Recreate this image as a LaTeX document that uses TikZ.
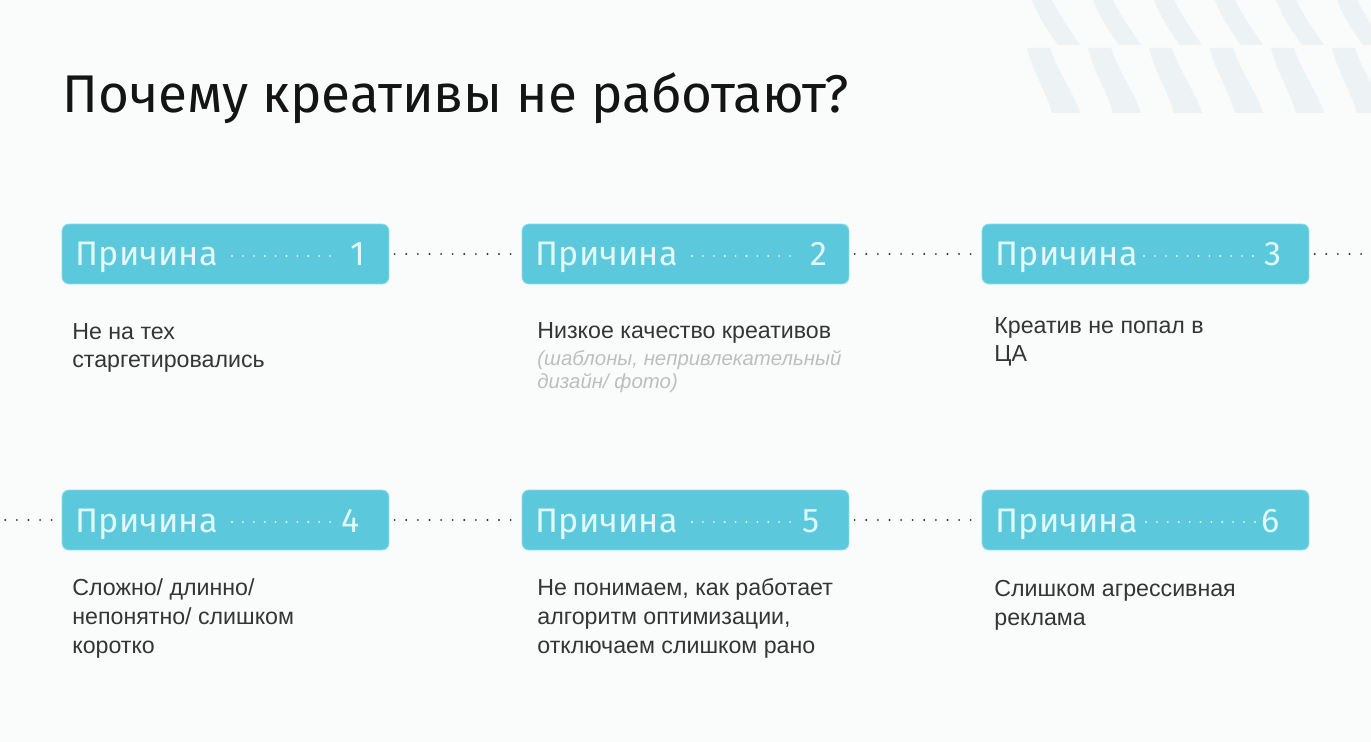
\documentclass[tikz,border=0pt]{standalone}
\usepackage{fontspec}
\setmainfont{Liberation Sans}
\newfontfamily\headfont{Fira Sans}
\usetikzlibrary{positioning,calc}
\definecolor{bgpage}{HTML}{FAFCFB}
\definecolor{tagcyan}{HTML}{5BC8DC}
\definecolor{tagedge}{HTML}{86DCEA}
\definecolor{tagtext}{HTML}{E2F9FB}
\definecolor{bodytext}{HTML}{353535}
\definecolor{notetext}{HTML}{BEBEBE}
\definecolor{stripe}{HTML}{EDF2F5}

\begin{document}
\begin{tikzpicture}[
  x=0.02cm, y=-0.02cm,
  tagbox/.style={rectangle, rounded corners=4pt, fill=tagcyan, draw=tagedge,
                 line width=0.5pt, minimum width=6.54cm, minimum height=1.2cm},
  tagword/.style={font=\headfont\fontsize{19.4}{22}\selectfont, text=tagtext,
                  inner sep=0pt},
  tagdots/.style={draw=tagtext, line width=1.2pt, line cap=round,
                  dash pattern=on 0pt off 6.2pt},
  dotline/.style={draw=black!80, line width=1.2pt, line cap=round,
                  dash pattern=on 0pt off 6.6pt, shorten <=3pt, shorten >=3pt},
  body/.style={font=\fontsize{13.2}{16.4}\selectfont, text=bodytext,
               align=left, inner sep=0pt},
  note/.style={font=\itshape\fontsize{11.6}{13.6}\selectfont, text=notetext,
               align=left, inner sep=0pt},
]
% page and frame
\fill[bgpage] (0,0) rectangle (1371,742);
\useasboundingbox (0,0) rectangle (1371,742);
% stripes top right
\begin{scope}
  \clip (0,0) rectangle (1371,742);
  \foreach \sx in {1032,1093,1154,1215,1276,1337} {
    \fill[stripe] (\sx,0) -- ++(20,0) .. controls +(10,20) and +(-8,-12) .. (\sx+48,45)
      -- (\sx+26,45) .. controls +(-10,-14) and +(8,20) .. (\sx,0) -- cycle;
    \fill[stripe] (\sx-5,48) -- ++(23,0) .. controls +(8,25) and +(-6,-20) .. (\sx+48,113)
      -- (\sx+20,113) .. controls +(-6,-22) and +(6,25) .. (\sx-5,48) -- cycle;
  }
\end{scope}
% title
\node[anchor=base west, inner sep=0pt, text=black!92,
      font=\headfont\fontsize{30.2}{34}\selectfont] (title) at (62,113)
  {Почему креативы не работают?};
% row 1
\node[tagbox] (b1) at (225.5,254) {};
\node[tagbox] (b2) at (685.5,254) {};
\node[tagbox] (b3) at (1145.5,254) {};
% row 2
\node[tagbox] (b4) at (225.5,520) {};
\node[tagbox] (b5) at (685.5,520) {};
\node[tagbox] (b6) at (1145.5,520) {};
% tag words and numbers
\node[tagword, anchor=base west] (w1) at ($(b1.west)+(14,12)$) {Причина};
\node[tagword, anchor=base east] (n1) at ($(b1.east)+(-24,12)$) {1};
\node[tagword, anchor=base west] (w2) at ($(b2.west)+(14,12)$) {Причина};
\node[tagword, anchor=base east] (n2) at ($(b2.east)+(-22,12)$) {2};
\node[tagword, anchor=base west] (w3) at ($(b3.west)+(14,12)$) {Причина};
\node[tagword, anchor=base east] (n3) at ($(b3.east)+(-28,12)$) {3};
\node[tagword, anchor=base west] (w4) at ($(b4.west)+(14,12)$) {Причина};
\node[tagword, anchor=base east] (n4) at ($(b4.east)+(-29,12)$) {4};
\node[tagword, anchor=base west] (w5) at ($(b5.west)+(14,12)$) {Причина};
\node[tagword, anchor=base east] (n5) at ($(b5.east)+(-29,12)$) {5};
\node[tagword, anchor=base west] (w6) at ($(b6.west)+(14,12)$) {Причина};
\node[tagword, anchor=base east] (n6) at ($(b6.east)+(-29,12)$) {6};
% dots inside the tags
\draw[tagdots] ($(w1.base east)+(14,-10)$) -- ($(n1.base west)+(-10,-10)$);
\draw[tagdots] ($(w2.base east)+(14,-10)$) -- ($(n2.base west)+(-10,-10)$);
\draw[tagdots] ($(w3.base east)+(6,-10)$) -- ($(n3.base west)+(-6,-10)$);
\draw[tagdots] ($(w4.base east)+(14,-10)$) -- ($(n4.base west)+(-10,-10)$);
\draw[tagdots] ($(w5.base east)+(14,-10)$) -- ($(n5.base west)+(-10,-10)$);
\draw[tagdots] ($(w6.base east)+(8,-10)$) -- ($(n6.base west)+(-4,-10)$);
% descriptions (base = last line)
\node[body, anchor=base west] (t1) at (72,368) {Не на тех\\старгетировались};
\node[body, anchor=base west] (t2) at (537,339) {Низкое качество креативов};
\node[note, anchor=base west] (t2n) at (537,389)
  {(шаблоны, непривлекательный\\дизайн/ фото)};
\node[body, anchor=base west] (t3) at (994,362) {Креатив не попал в\\ЦА};
\node[body, anchor=base west] (t4) at (72,653)
  {Сложно/ длинно/\\непонятно/ слишком\\коротко};
\node[body, anchor=base west] (t5) at (537,653)
  {Не понимаем, как работает\\алгоритм оптимизации,\\отключаем слишком рано};
\node[body, anchor=base west] (t6) at (994,625) {Слишком агрессивная\\реклама};
% links
\coordinate (rightend) at (1371,254);
\coordinate (leftend) at (0,520);
\draw[dotline] (b1.east) -- (b2.west);
\draw[dotline] (b2.east) -- (b3.west);
\draw[dotline] (b3.east) -- (rightend);
\draw[dotline] (leftend) -- (b4.west);
\draw[dotline] (b4.east) -- (b5.west);
\draw[dotline] (b5.east) -- (b6.west);
\end{tikzpicture}
\end{document}
